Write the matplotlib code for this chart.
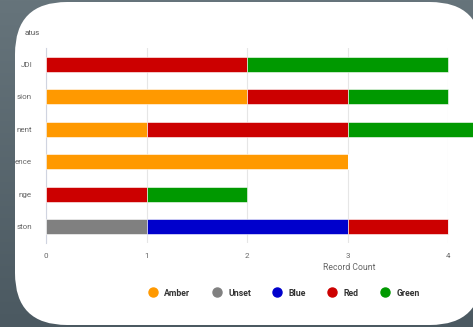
import numpy as np
import matplotlib
matplotlib.use("Agg")
import matplotlib.pyplot as plt
from matplotlib.patches import FancyBboxPatch
from matplotlib.lines import Line2D
from matplotlib.colors import LinearSegmentedColormap

plt.rcParams["font.family"] = ["Roboto", "DejaVu Sans"]

categories = ["JDI", "sion", "nent", "ence", "nge", "ston"]
series_names = ["Amber", "Unset", "Blue", "Red", "Green"]
amber = [0, 2, 1, 3, 0, 0]
unset = [0, 0, 0, 0, 0, 1]
blue = [0, 0, 0, 0, 0, 2]
red = [2, 1, 2, 0, 1, 1]
green = [2, 1, 2, 0, 1, 0]
colors = ["#FF9900", "#808080", "#0000CC", "#CC0000", "#009900"]
xticks = [0, 1, 2, 3, 4]

W, H = 473, 327
fig = plt.figure(figsize=(W / 100, H / 100), dpi=100)

# background with card
bg = fig.add_axes([0, 0, 1, 1])
bg.set_xlim(0, W)
bg.set_ylim(H, 0)
bg.axis("off")
grad = np.linspace(0, 1, 256).reshape(-1, 1)
cmap = LinearSegmentedColormap.from_list("bgc", ["#66747b", "#4b5961"])
bg.imshow(grad, extent=[0, W, H, 0], cmap=cmap, aspect="auto", zorder=0)
r = 52
card = FancyBboxPatch((15 + r, 2 + r), 482 - 15 - 2 * r, 325 - 2 - 2 * r,
                      boxstyle="round,pad=%d" % r, fc="white", ec="none", zorder=1)
bg.add_patch(card)

ax = fig.add_axes([46 / W, 1 - 243 / H, (448 - 46) / W, (243 - 48) / H])
ax.set_facecolor("none")
y = np.arange(len(categories))
left = np.zeros(len(categories))
for name, vals, c in zip(series_names, [amber, unset, blue, red, green], colors):
    vals = np.array(vals, dtype=float)
    ax.barh(y, vals, left=left, height=0.46, color=c, edgecolor="white",
            linewidth=0.4, label=name, clip_on=False, zorder=3)
    left += vals
ax.set_ylim(len(categories) - 0.5, -0.5)
ax.set_xlim(0, 4)
ax.set_xticks(xticks)
ax.set_xticklabels([str(t) for t in xticks])
ax.set_yticks(y)
ax.set_yticklabels(categories)
ax.tick_params(axis="both", labelsize=5.8, colors="#666666", length=0)
ax.tick_params(axis="x", pad=7)
ax.tick_params(axis="y", pad=10)
ax.grid(axis="x", color="#e6e6e6", linewidth=0.8, zorder=0)
for s in ["top", "right", "bottom"]:
    ax.spines[s].set_visible(False)
ax.spines["left"].set_color("#d0d4e0")
ax.spines["left"].set_linewidth(0.8)

fig.text(25 / W, 1 - 33 / H, "atus", fontsize=5.8, color="#555555", va="center", ha="left")
fig.text(349 / W, 1 - 268 / H, "Record Count", fontsize=6.2, color="#666666", va="center", ha="center")

handles = [Line2D([0], [0], marker="o", linestyle="none", markersize=6.5,
                  markerfacecolor=c, markeredgecolor=c) for c in colors]
leg = fig.legend(handles, series_names, loc="center", bbox_to_anchor=(282 / W, 1 - 293 / H),
                 ncol=5, frameon=False, fontsize=6.3, handletextpad=0.3, columnspacing=2.0)
for t in leg.get_texts():
    t.set_color("#333333")
    t.set_fontweight("bold")

fig.savefig("out.png", dpi=100)
